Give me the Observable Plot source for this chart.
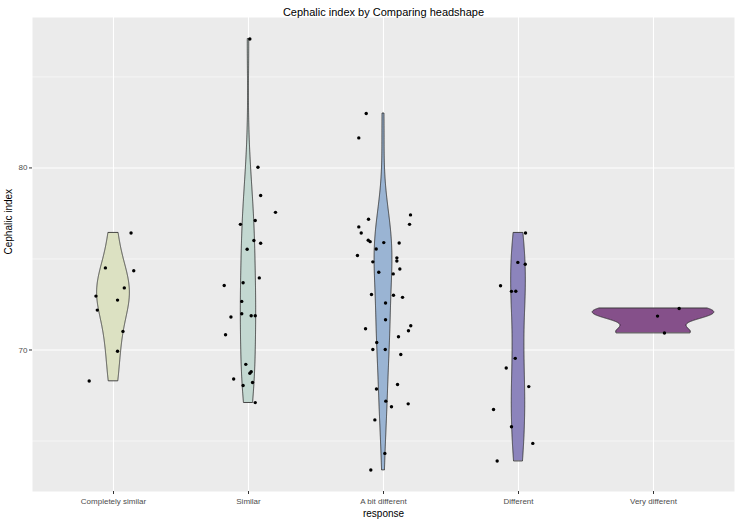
<!DOCTYPE html>
<html>
<head>
<meta charset="utf-8">
<script src="https://cdn.jsdelivr.net/npm/d3@7"></script>
<script src="https://cdn.jsdelivr.net/npm/@observablehq/plot@0.6"></script>
<style>
  html, body { margin: 0; padding: 0; background: #ffffff; }
  #chart svg { font-family: "Liberation Sans", Arial, Helvetica, sans-serif; display: block; }
</style>
</head>
<body>
<div id="chart"></div>
<script>
const categories = ["Completely similar", "Similar", "A bit different", "Different", "Very different"];
const fillColors = ["#DCE1C2", "#C3D8D1", "#9AB4D3", "#8C84BC", "#85508A"];
const yTicks = [70, 80];
const yMinorTicks = [65, 75, 85];

// Cephalic index values per response group, with horizontal jitter (category units)
const completelySimilar = [76.43, 74.51, 74.35, 73.41, 72.96, 72.74, 72.19, 71.02, 69.93, 68.30];
const completelySimilarJitter = [0.13, -0.06, 0.15, 0.08, -0.13, 0.03, -0.12, 0.07, 0.03, -0.18];

const similar = [87.08, 80.04, 78.49, 77.56, 77.11, 76.90, 76.01, 75.86, 75.53, 73.96, 73.54, 73.69, 72.67,
  71.81, 71.99, 71.88, 71.88, 70.84, 69.21, 68.81, 68.72, 68.41, 68.05, 68.21, 67.11];
const similarJitter = [0.01, 0.07, 0.09, 0.20, 0.05, -0.06, 0.04, 0.09, -0.01, 0.08, -0.18, -0.04, -0.05,
  -0.13, -0.05, 0.02, 0.05, -0.17, -0.02, 0.02, 0.01, -0.11, -0.04, 0.03, 0.05];

const aBitDifferent = [82.99, 81.65, 77.42, 77.18, 76.90, 76.76, 76.43, 76.03, 75.95, 75.90, 75.88, 75.55,
  75.19, 75.06, 74.89, 74.84, 74.45, 74.27, 74.18, 73.05, 73.01, 72.89, 72.58, 71.66, 71.17, 71.33, 71.06,
  70.73, 70.41, 70.03, 70.03, 69.75, 68.10, 67.86, 67.19, 67.04, 66.88, 66.16, 64.32, 63.41];
const aBitDifferentJitter = [-0.128, -0.183, 0.200, -0.111, 0.193, -0.183, -0.165, -0.113, -0.099, 0.002,
  0.116, -0.054, -0.193, 0.099, 0.099, -0.079, 0.121, -0.035, 0.072, -0.089, 0.074, 0.141, 0.015, 0.015,
  -0.133, 0.202, 0.185, 0.111, -0.050, -0.079, 0.013, 0.128, 0.104, -0.052, 0.017, 0.183, 0.059, -0.064,
  0.010, -0.094];

const different = [76.43, 74.81, 74.71, 73.53, 73.22, 73.23, 69.54, 69.01, 67.99, 66.73, 65.78, 64.87, 63.90];
const differentJitter = [0.052, -0.005, 0.050, -0.133, -0.052, -0.020, -0.024, -0.091, 0.076, -0.185, -0.052, 0.106, -0.158];

const veryDifferent = [72.28, 71.86, 70.93];
const veryDifferentJitter = [0.190, 0.030, 0.081];

const groupValues = [completelySimilar, similar, aBitDifferent, different, veryDifferent];
const groupJitter = [completelySimilarJitter, similarJitter, aBitDifferentJitter, differentJitter, veryDifferentJitter];

// point table
const points = [];
groupValues.forEach((vals, gi) => {
  vals.forEach((v, j) => points.push({cat: categories[gi], pos: gi + 1 + groupJitter[gi][j], value: v}));
});

// violin densities (gaussian KDE, bw.nrd0, trimmed to data range, scale = "area")
function bwNrd0(x) {
  const s = d3.deviation(x);
  const sorted = x.slice().sort(d3.ascending);
  const iqr = d3.quantileSorted(sorted, 0.75) - d3.quantileSorted(sorted, 0.25);
  let lo = Math.min(s, iqr / 1.34);
  if (!(lo > 0)) lo = s || Math.abs(x[0]) || 1;
  return 0.9 * lo * Math.pow(x.length, -0.2);
}
const violin = [];
groupValues.forEach((vals, gi) => {
  const bw = bwNrd0(vals);
  const [lo, hi] = d3.extent(vals);
  const n = 512;
  for (let k = 0; k < n; k++) {
    const y = lo + (hi - lo) * k / (n - 1);
    let d = 0;
    for (const v of vals) { const u = (y - v) / bw; d += Math.exp(-0.5 * u * u); }
    d /= vals.length * bw * Math.sqrt(2 * Math.PI);
    violin.push({cat: categories[gi], center: gi + 1, y, d});
  }
});
const dMax = d3.max(violin, d => d.d);
violin.forEach(r => { r.x1 = r.center - 0.45 * r.d / dMax; r.x2 = r.center + 0.45 * r.d / dMax; });

const [yLo, yHi] = d3.extent(points, d => d.value);
const yPad = (yHi - yLo) * 0.05;

const chart = Plot.plot({
  width: 738,
  height: 521,
  marginLeft: 32,
  marginRight: 4,
  marginTop: 17,
  marginBottom: 30,
  style: {background: "#ffffff", fontSize: "8px"},
  x: {domain: [0.4, 5.6]},
  y: {domain: [yLo - yPad, yHi + yPad]},
  color: {domain: categories, range: fillColors},
  marks: [
    Plot.frame({fill: "#EBEBEB"}),
    Plot.ruleY(yMinorTicks, {stroke: "#ffffff", strokeWidth: 0.55}),
    Plot.ruleY(yTicks, {stroke: "#ffffff", strokeWidth: 1.1}),
    Plot.ruleX(d3.range(1, categories.length + 1), {stroke: "#ffffff", strokeWidth: 1.1}),
    Plot.areaX(violin, {y: "y", x1: "x1", x2: "x2", z: "cat", fill: "cat", stroke: "#333333", strokeWidth: 0.9, curve: "linear"}),
    Plot.dot(points, {x: "pos", y: "value", r: 1.7, fill: "#000000", stroke: null}),
    Plot.axisX({
      ticks: d3.range(1, categories.length + 1),
      tickFormat: i => categories[i - 1],
      tickSize: 3,
      tickPadding: 4,
      stroke: "#333333",
      fill: "#4D4D4D",
      fontSize: 8,
      label: null
    }),
    Plot.axisY({
      ticks: yTicks,
      tickSize: 3,
      tickPadding: 2,
      stroke: "#333333",
      fill: "#4D4D4D",
      fontSize: 8,
      label: null
    }),
    Plot.text(["response"], {frameAnchor: "bottom", dy: 25, fontSize: 10, fill: "#000000"}),
    Plot.text(["Cephalic index"], {frameAnchor: "left", dx: -24, rotate: -90, fontSize: 10, fill: "#000000"}),
    Plot.text(["Cephalic index by Comparing headshape"], {frameAnchor: "top", dy: -9, fontSize: 11, fill: "#000000"})
  ]
});
document.getElementById("chart").appendChild(chart);
</script>
</body>
</html>
